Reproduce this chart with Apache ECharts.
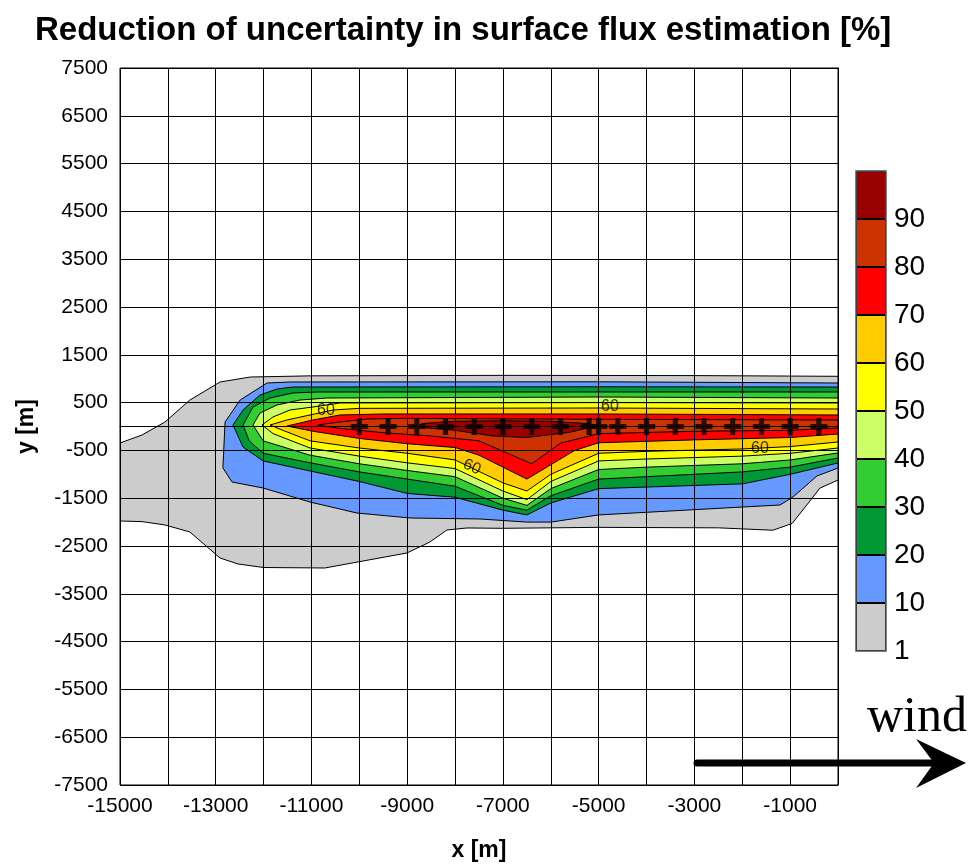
<!DOCTYPE html>
<html><head><meta charset="utf-8">
<script src="https://cdn.jsdelivr.net/npm/echarts@6/dist/echarts.min.js"></script>
<style>html,body{margin:0;padding:0;background:#fff}#c{width:974px;height:867px}</style>
</head><body><div id="c"></div>
<script>
// ---- data ----
const levels = [1, 10, 20, 30, 40, 50, 60, 70, 80, 90];
const levelColors = ['#cccccc', '#6699ff', '#009933', '#33cc33', '#ccff66', '#ffff00', '#ffcc00', '#ff0000', '#cc3300', '#990000'];
const xTicks = [-15000, -13000, -11000, -9000, -7000, -5000, -3000, -1000];
const yTicks = [7500, 6500, 5500, 4500, 3500, 2500, 1500, 500, -500, -1500, -2500, -3500, -4500, -5500, -6500, -7500];

const contour1 = [[-15000,-345],[-14540,-178],[-14060,94],[-13540,554],[-12910,931],[-12280,1035],[-11000,1060],[-7000,1070],[-3000,1065],[0,1050],
  [0,-1120],[-380,-1290],[-650,-1640],[-960,-2030],[-1360,-2170],[-2500,-2120],[-5000,-2110],[-7000,-2130],[-7750,-2123],[-8170,-2165],[-8525,-2416],[-9005,-2646],[-10720,-2960],[-12000,-2950],[-12535,-2876],[-12910,-2751],[-13540,-2207],[-14060,-2060],[-14540,-1990],[-15000,-1977]];
const contour10 = [[-12850,-868],[-12805,94],[-12490,554],[-11930,910],[-11450,931],[-5000,935],[0,910],
  [0,-868],[-440,-1035],[-940,-1475],[-1210,-1642],[-1985,-1684],[-5000,-1850],[-6000,-2000],[-6500,-2000],[-7480,-1935],[-8940,-1914],[-10050,-1810],[-11030,-1580],[-12010,-1287],[-12660,-1161]];
const contour20 = [[-12640,31],[-12430,345],[-12075,659],[-11720,784],[-11385,826],[-5000,830],[0,826],
  [0,-763],[-1000,-1000],[-2000,-1200],[-5000,-1300],[-6000,-1600],[-6500,-1850],[-7000,-1750],[-8000,-1480],[-9000,-1400],[-10000,-1150],[-11030,-930],[-12010,-720],[-12430,-429]];
const contour30 = [[-12430,31],[-12222,408],[-11866,596],[-11386,701],[-10885,722],[0,722],
  [0,-659],[-1000,-850],[-2000,-950],[-4000,-1050],[-5000,-1100],[-6000,-1450],[-6500,-1750],[-7000,-1650],[-8000,-1250],[-9000,-1100],[-10000,-950],[-11030,-760],[-12010,-560],[-12300,-300]];
const contour40 = [[-12222,31],[-12075,282],[-11720,450],[-11240,554],[-10676,596],[-5000,617],[0,596],
  [0,-554],[-1000,-700],[-2000,-780],[-4000,-850],[-5000,-900],[-6000,-1300],[-6500,-1650],[-7000,-1500],[-8000,-1050],[-9000,-920],[-10000,-780],[-11030,-600],[-12010,-300]];
const contour50 = [[-12034,31],[-11804,199],[-11449,345],[-10968,408],[-10404,492],[-5000,500],[0,492],
  [0,-450],[-1000,-560],[-2000,-620],[-4000,-680],[-5000,-720],[-6000,-1150],[-6500,-1530],[-7000,-1350],[-8000,-880],[-9000,-760],[-10000,-620],[-11030,-450],[-11800,-150]];
const contour60 = [[-11866,31],[-11511,136],[-11031,241],[-10550,345],[-10000,380],[-5000,387],[0,366],
  [0,-324],[-1000,-420],[-2000,-470],[-4000,-520],[-5000,-560],[-6000,-1000],[-6500,-1350],[-7000,-1180],[-8000,-700],[-9000,-560],[-10000,-450],[-11030,-300],[-11600,-80]];
const contour70 = [[-11511,10],[-10968,136],[-10404,241],[-9500,262],[-5000,262],[0,241],
  [0,-157],[-1000,-230],[-3000,-280],[-5000,-340],[-5500,-500],[-6500,-1100],[-7500,-600],[-8000,-440],[-9000,-360],[-10000,-250],[-10968,-100]];
const contour80 = [[-10885,31],[-10404,94],[-9840,157],[-9000,170],[-5000,150],[0,136],
  [0,-31],[-1000,-80],[-3000,-100],[-5000,-150],[-5800,-350],[-6400,-780],[-7500,-300],[-8500,-200],[-9500,-130],[-10400,-40]];
const contour90 = [[-8700,60],[-8000,110],[-7000,120],[-6000,110],[-5200,60],[-5100,0],[-5600,-120],[-6500,-230],[-7200,-200],[-8000,-80],[-8700,-20]];

const receiversX = [-10000,-9400,-8800,-8200,-7600,-7000,-6400,-5800,-5200,-5000,-4600,-4000,-3400,-2800,-2200,-1600,-1000,-400];
const receiversY = [0,0,0,0,0,0,0,0,0,0,0,0,0,0,0,0,0,0];

const labelX = [-10697, -4764, -7647, -1630];
const labelY = [324, 408, -847, -471];
const labelText = ['60', '60', '60', '60'];
const labelRot = [0, 0, -25, 0];

// ---- chart ----
const contours = [contour1, contour10, contour20, contour30, contour40, contour50, contour60, contour70, contour80, contour90];
const chart = echarts.init(document.getElementById('c'), null, {renderer: 'canvas'});
const FONT = 'Liberation Sans, Arial, sans-serif';
const plusPath = 'path://M-1.5,-5H1.5V-1.5H5V1.5H1.5V5H-1.5V1.5H-5V-1.5H-1.5Z';

const cbSeries = levels.map((lv, i) => ({
  type: 'bar', name: 'cb' + lv, xAxisIndex: 1, yAxisIndex: 1, stack: 'cb',
  data: [1], barWidth: '100%', silent: true,
  itemStyle: {color: levelColors[i], borderColor: '#000', borderWidth: 1}
}));

chart.setOption({
  animation: false,
  backgroundColor: '#fff',
  title: {text: 'Reduction of uncertainty in surface flux estimation [%]', left: 30, top: 9,
    textStyle: {fontFamily: FONT, fontWeight: 'bold', fontSize: 33, color: '#000'}},
  grid: [
    {left: 120, top: 68, width: 718, height: 717, show: true, borderColor: '#000', borderWidth: 1, backgroundColor: 'transparent'},
    {left: 856, top: 171, width: 30, height: 480, show: false}
  ],
  xAxis: [
    {type: 'value', min: -15000, max: 0, interval: 1000, z: 5,
     name: 'x [m]', nameLocation: 'middle', nameGap: 54,
     nameTextStyle: {fontFamily: FONT, fontWeight: 'bold', fontSize: 23, color: '#000'},
     axisLine: {lineStyle: {color: '#000', width: 1}},
     axisTick: {show: true, length: 8, lineStyle: {color: '#000'}},
     axisLabel: {fontFamily: FONT, fontSize: 21, color: '#000', margin: 11,
       formatter: v => xTicks.indexOf(v) >= 0 ? String(v) : ''},
     splitLine: {show: true, lineStyle: {color: '#000', width: 1}}},
    {type: 'category', gridIndex: 1, data: [''], show: false}
  ],
  yAxis: [
    {type: 'value', min: -7500, max: 7500, interval: 1000, z: 5,
     name: 'y [m]', nameLocation: 'middle', nameGap: 82, nameRotate: 90,
     nameTextStyle: {fontFamily: FONT, fontWeight: 'bold', fontSize: 23, color: '#000'},
     axisLine: {lineStyle: {color: '#000', width: 1}},
     axisTick: {show: true, length: 5, lineStyle: {color: '#000'}},
     axisLabel: {fontFamily: FONT, fontSize: 21, color: '#000', margin: 12,
       formatter: v => yTicks.indexOf(v) >= 0 ? String(v) : ''},
     splitLine: {show: true, lineStyle: {color: '#000', width: 1}}},
    {type: 'value', gridIndex: 1, min: 0, max: 10, interval: 1, position: 'right',
     axisLine: {show: false}, axisTick: {show: false}, splitLine: {show: false},
     axisLabel: {fontFamily: FONT, fontSize: 28, color: '#000', margin: 8,
       formatter: v => v < levels.length ? String(levels[v]) : ''}}
  ],
  series: [
    {type: 'custom', name: 'contours', coordinateSystem: 'cartesian2d', clip: true, z: 2, silent: true,
     data: contours.map((c, i) => [c[0][0], c[0][1], i]),
     renderItem: (params, api) => {
       const i = params.dataIndex;
       return {type: 'polygon', shape: {points: contours[i].map(p => api.coord(p))},
         style: {fill: levelColors[i], stroke: '#000', lineWidth: 1}};
     }},
    {type: 'line', name: 'receiver line', data: receiversX.map((x, i) => [x, receiversY[i]]),
     symbol: 'none', lineStyle: {color: '#000', width: 1}, z: 6, silent: true},
    {type: 'scatter', name: 'receivers', data: receiversX.map((x, i) => [x, receiversY[i]]),
     symbol: plusPath, symbolSize: 17, itemStyle: {color: '#000'}, z: 7, silent: true},
    {type: 'scatter', name: 'contour labels', symbolSize: 0, z: 7, silent: true,
     data: labelX.map((x, i) => ({value: [x, labelY[i]],
       label: {show: true, formatter: labelText[i], rotate: labelRot[i], position: 'inside',
         fontFamily: FONT, fontSize: 16, color: '#000'}}))},
    ...cbSeries
  ],
  graphic: [
    {type: 'rect', shape: {x: 856, y: 171, width: 30, height: 480}, style: {fill: 'none', stroke: '#555', lineWidth: 1.5}, z: 100},
    {type: 'text', left: 867, top: 693, style: {text: 'wind', font: '50px "Liberation Serif", serif', fill: '#000'}},
    {type: 'line', shape: {x1: 697, y1: 763, x2: 940, y2: 763}, style: {stroke: '#000', lineWidth: 7, lineCap: 'round'}, z: 100},
    {type: 'polygon', shape: {points: [[966, 763], [916, 739], [934, 763], [916, 788]]}, style: {fill: '#000'}, z: 100}
  ]
});
</script>
</body></html>
